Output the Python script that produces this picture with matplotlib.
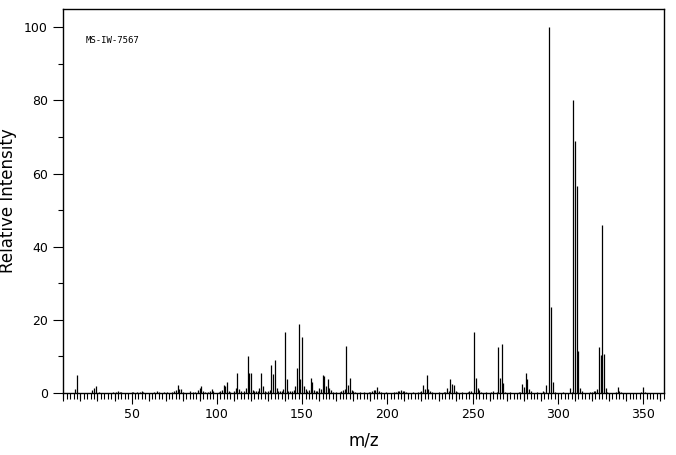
import matplotlib
matplotlib.use('Agg')
import matplotlib.pyplot as plt
from matplotlib.ticker import MultipleLocator, FuncFormatter

# mass spectrum MS-IW-7567, peaks
mz = [17, 18, 27, 28, 29, 31, 39, 41, 42, 43, 44, 50, 51, 53, 55, 56, 57,
      63, 65, 66, 69, 71, 74, 75, 76, 77, 78, 79, 80, 84, 86, 87, 89, 90,
      91, 92, 93, 95, 96, 97, 98, 101, 102, 103, 104, 105, 106, 107, 108,
      110, 111, 112, 113, 114, 116, 117, 118, 119, 120, 121, 122, 123, 124,
      125, 126, 127, 128, 129, 130, 131, 132, 133, 134, 135, 136, 137, 138,
      139, 140, 141, 142, 143, 144, 145, 146, 147, 148, 149, 150, 151, 152,
      153, 154, 155, 156, 157, 158, 159, 160, 161, 162, 163, 164, 165, 166,
      167, 168, 170, 172, 173, 174, 175, 176, 177, 178, 179, 180, 181, 184,
      186, 189, 190, 191, 192, 193, 194, 195, 196, 199, 204, 205, 206, 207,
      208, 209, 210, 211, 215, 218, 219, 220, 221, 222, 223, 224, 225, 226,
      230, 233, 234, 235, 236, 237, 238, 239, 240, 241, 244, 247, 248, 249,
      251, 252, 253, 254, 255, 258, 261, 262, 264, 265, 266, 267, 268, 269,
      272, 277, 278, 279, 280, 281, 282, 283, 284, 288, 291, 292, 293, 295,
      296, 297, 298, 303, 307, 308, 309, 310, 311, 312, 313, 314, 319, 320,
      321, 322, 323, 324, 325, 326, 327, 328, 329, 334, 335, 336, 337, 349,
      350, 351]
intensity = [1.1, 5.0, 0.8, 1.5, 2.0, 0.3, 0.3, 0.4, 0.5, 0.4, 0.3, 0.3, 0.4,
             0.3, 0.4, 0.5, 0.4, 0.3, 0.5, 0.4, 0.3, 0.3, 0.4, 0.5, 0.7, 2.1,
             1.0, 1.0, 0.4, 0.5, 0.3, 0.4, 0.8, 1.3, 1.9, 0.5, 0.4, 0.4, 0.5,
             1.0, 0.5, 0.4, 0.5, 0.8, 2.1, 1.8, 2.9, 0.5, 0.4, 0.5, 1.3, 5.6,
             1.0, 0.5, 0.6, 1.3, 10.0, 5.6, 5.6, 0.8, 0.5, 0.5, 0.5, 1.5, 5.6,
             1.8, 0.5, 0.4, 0.5, 0.8, 7.6, 5.2, 9.0, 1.3, 0.6, 0.5, 0.5, 1.0,
             16.7, 3.8, 0.6, 0.5, 0.5, 0.7, 1.8, 6.8, 18.9, 3.8, 15.3, 1.9,
             1.1, 0.5, 0.7, 4.1, 3.0, 0.7, 0.5, 0.5, 1.4, 1.1, 4.9, 4.6, 1.8,
             3.8, 1.5, 0.7, 0.4, 0.3, 0.4, 0.5, 0.7, 1.0, 12.8, 2.2, 4.1, 0.7,
             0.5, 0.3, 0.3, 0.3, 0.3, 0.3, 0.5, 0.7, 0.9, 1.6, 0.5, 0.3, 0.2,
             0.3, 0.4, 0.5, 0.5, 0.8, 0.6, 0.5, 0.3, 0.2, 0.3, 0.4, 0.5, 2.2,
             1.1, 5.0, 1.1, 0.5, 0.3, 0.2, 0.3, 0.4, 1.4, 0.6, 3.8, 2.5, 2.3,
             0.5, 0.3, 0.2, 0.3, 0.5, 0.5, 16.6, 4.0, 1.3, 0.7, 0.4, 0.2, 0.3,
             0.5, 0.3, 12.5, 4.0, 13.3, 2.6, 0.3, 0.2, 0.3, 0.4, 2.4, 1.6, 5.6,
             3.7, 1.1, 0.5, 0.2, 0.5, 0.3, 2.1, 100.0, 23.5, 2.9, 0.4, 0.2,
             1.4, 0.3, 80.0, 69.0, 56.5, 11.5, 1.4, 0.6, 0.3, 0.3, 0.5, 0.5,
             1.1, 12.6, 10.4, 46.0, 10.7, 1.4, 0.3, 0.3, 1.6, 0.5, 0.3, 0.3,
             1.6, 0.3]

W, H = 676, 455
fig = plt.figure(figsize=(W / 100, H / 100), dpi=100)
ax = fig.add_axes([63 / W, 1 - 393 / H, 601 / W, 384 / H])

ax.vlines(mz, 0, intensity, colors='black', linewidth=0.9)

ax.set_xlim(9.8, 362.2)
ax.set_ylim(0, 105)

## ticks: long every 50 (labelled), medium every 10, short every 2
ax.xaxis.set_major_locator(MultipleLocator(50))
ax.xaxis.set_minor_locator(MultipleLocator(2))
ax.yaxis.set_major_locator(MultipleLocator(20))
ax.yaxis.set_minor_locator(MultipleLocator(10))
ax.yaxis.set_major_formatter(FuncFormatter(lambda v, p: '%d' % v))

ax.tick_params(axis='x', which='major', length=8, width=0.8, labelsize=9, pad=2.5)
ax.tick_params(axis='x', which='minor', length=4.3, width=0.8)
ax.tick_params(axis='y', which='major', length=7.2, width=0.8, labelsize=9, pad=3.6)
ax.tick_params(axis='y', which='minor', length=3.6, width=0.8)

medium = [m for m in range(10, 361, 10) if m % 50 != 0]
ax.vlines(medium, -7.5 / 384, 0, transform=ax.get_xaxis_transform(),
          colors='black', linewidth=0.8, clip_on=False)

for s in ax.spines.values():
    s.set_linewidth(1.0)

ax.text(0.038, 0.917, 'MS-IW-7567', transform=ax.transAxes, fontsize=6.5,
        family='DejaVu Sans Mono', va='center')

ax.set_xlabel('m/z', fontsize=12, labelpad=8)
ax.set_ylabel('Relative Intensity', fontsize=12, labelpad=5)

fig.savefig('out.png', dpi=100)
